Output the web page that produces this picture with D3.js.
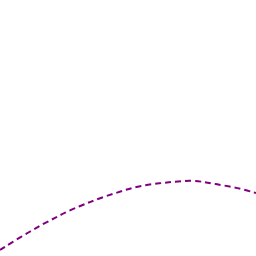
<!DOCTYPE html>
<html>
<head>
<meta charset="utf-8">
<script src="https://cdn.jsdelivr.net/npm/d3@7"></script>
<style>
  html, body { margin: 0; padding: 0; background: #fff; }
  svg { display: block; }
</style>
</head>
<body>
<div id="chart"></div>
<script>
// values (pixel-ish units)
const xValues = [0, 10, 30, 43, 55, 64, 80, 90, 103, 116, 128, 140, 153, 165, 178, 192, 205, 215, 230, 242, 256];
const yValues = [250, 243.5, 231.5, 224, 218, 213, 206, 202, 197, 193, 189, 186, 184, 182.7, 181.3, 180.5, 182, 184, 186.5, 189, 193];

const width = 256;
const height = 256;

const svg = d3.select('#chart')
  .append('svg')
  .attr('width', width)
  .attr('height', height);

const x = d3.scaleLinear().domain([0, 256]).range([0, width]);
const y = d3.scaleLinear().domain([0, 256]).range([0, height]);

const points = xValues.map((v, i) => ({ x: v, y: yValues[i] }));

const line = d3.line()
  .x(d => x(d.x))
  .y(d => y(d.y))
  .curve(d3.curveBasis);

svg.append('path')
  .datum(points)
  .attr('fill', 'none')
  .attr('stroke', '#800080')
  .attr('stroke-width', 2)
  .attr('stroke-dasharray', '6,4')
  .attr('d', line);
</script>
</body>
</html>
